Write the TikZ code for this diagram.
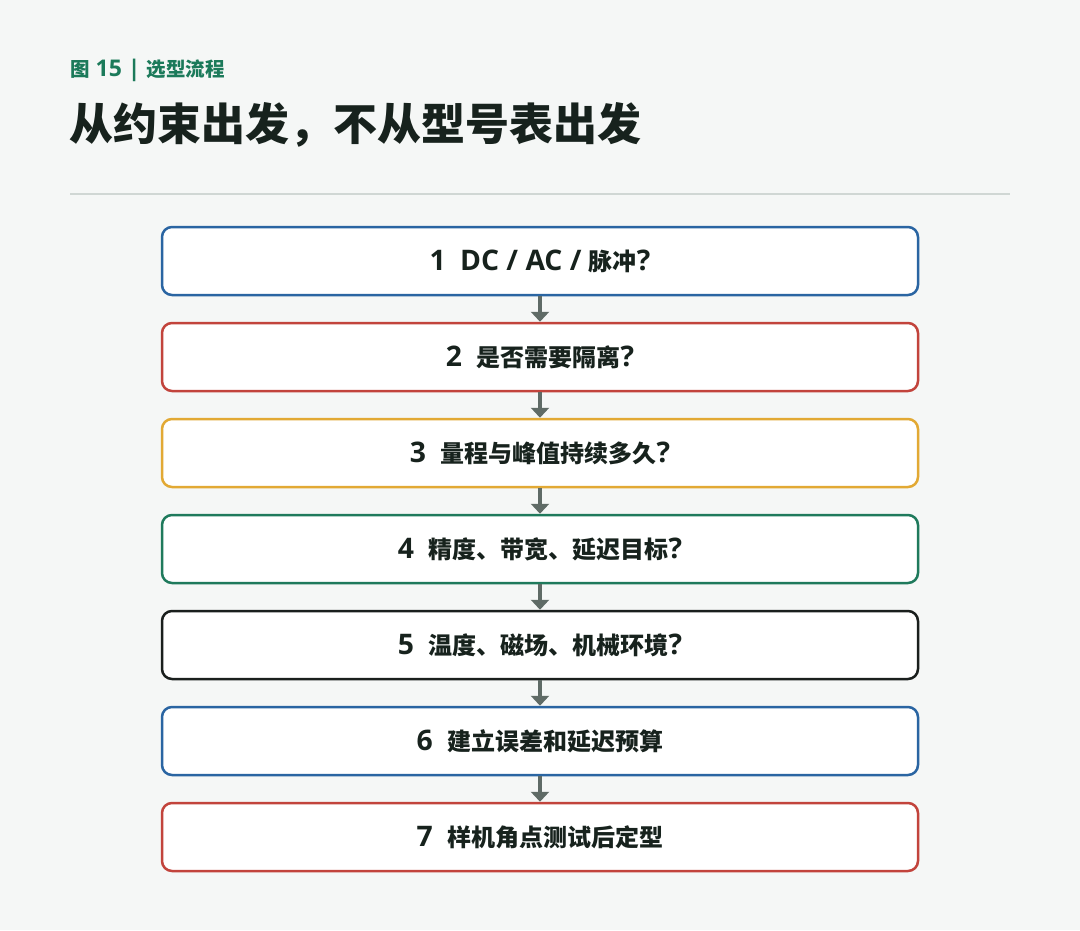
\documentclass[tikz,border=0pt]{standalone}
\usepackage{fontspec}
\setmainfont{Noto Sans CJK SC}
\newfontfamily\latino{Open Sans}[Scale = 1.18]
\newcommand{\lat}[1]{{\latino #1}}
\usetikzlibrary{arrows.meta, positioning}
\definecolor{sfondo}{HTML}{F5F7F6}
\definecolor{verde}{HTML}{1B7A5A}
\definecolor{nero}{HTML}{17221D}
\definecolor{regola}{HTML}{D0D7D4}
\definecolor{grigio}{HTML}{5F6B66}
\definecolor{azzurro}{HTML}{2A65A2}
\definecolor{rosso}{HTML}{C2443C}
\definecolor{giallo}{HTML}{E2A934}
\definecolor{verdescuro}{HTML}{1F7A5C}
\definecolor{scuro}{HTML}{1A1F1D}

\begin{document}
\begin{tikzpicture}[x = 1pt, y = -1pt,
    passo/.style = {line width = 2.5pt, rounded corners = 10pt, fill = white,
        minimum width = 756pt, minimum height = 68pt, inner sep = 0pt,
        font = \fontsize{24}{24}\selectfont\bfseries, text = nero},
    freccia/.style = {draw = grigio, line width = 3.5pt, -{Triangle[width = 18pt, length = 10pt]}}]
    % Sfondo
    \fill[sfondo] (0,0) rectangle (1080,930);
    \useasboundingbox (0,0) rectangle (1080,930);
    % Titolo
    \node[anchor = west, inner sep = 0pt, text = verde, font = \fontsize{19.5}{19.5}\selectfont\bfseries] (etichetta) at (70,70) {图\lat{ 15 | }选型流程};
    \node[anchor = west, inner sep = 0pt, text = nero, font = \fontsize{44}{44}\selectfont\bfseries] (titolo) at (69,125) {从约束出发，不从型号表出发};
    \draw[regola, line width = 2pt] (70,194) -- (1010,194);
    % Riquadri
    \foreach \i/\testo/\colore in {
        1/{\lat{1}\hspace{0.6em}\lat{DC / AC / }脉冲\lat{?}}/azzurro,
        2/{\lat{2}\hspace{0.6em}是否需要隔离\lat{?}}/rosso,
        3/{\lat{3}\hspace{0.6em}量程与峰值持续多久\lat{?}}/giallo,
        4/{\lat{4}\hspace{0.6em}精度、带宽、延迟目标\lat{?}}/verdescuro,
        5/{\lat{5}\hspace{0.6em}温度、磁场、机械环境\lat{?}}/scuro,
        6/{\lat{6}\hspace{0.6em}建立误差和延迟预算}/azzurro,
        7/{\lat{7}\hspace{0.6em}样机角点测试后定型}/rosso}{
        \node[passo, draw = \colore] (b\i) at (540,{261+96*(\i-1)}) {\testo};
    }
    % Frecce
    \foreach \i [evaluate = \i as \j using {int(\i+1)}] in {1,...,6}{
        \draw[freccia] (b\i.south) -- (b\j.north);
    }
\end{tikzpicture}
\end{document}
